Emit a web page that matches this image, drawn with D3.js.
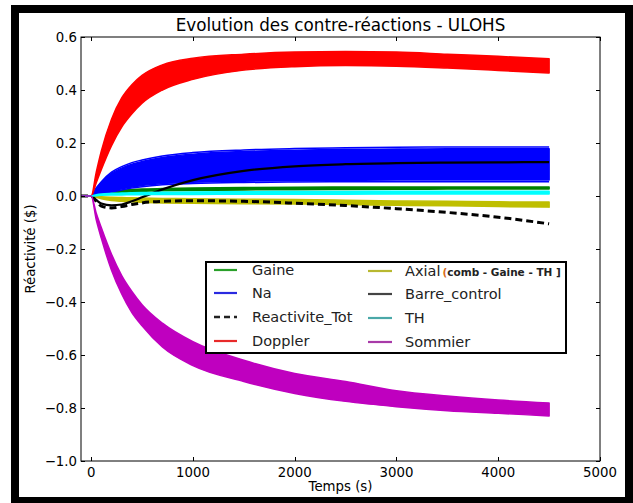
<!DOCTYPE html>
<html>
<head>
<meta charset="utf-8">
<script src="https://cdn.jsdelivr.net/npm/d3@7"></script>
<style>
	body { margin: 0; background: #fff; }
	svg text { font-family: "DejaVu Sans", sans-serif; fill: #000; }
</style>
</head>
<body>
<svg id="chart" width="633" height="503"></svg>
<script>
// time steps (s)
let temps = [-100, 0, 50, 100, 200, 300, 400, 500, 700, 1000, 1500, 2000, 2500, 3000, 3500, 4000, 4500];

// bands: upper / lower envelope of each family of curves ($)
let dopplerHigh = [0, 0, 0.09, 0.17, 0.29, 0.37, 0.42, 0.455, 0.495, 0.52, 0.535, 0.543, 0.545, 0.543, 0.535, 0.527, 0.518];
let dopplerLow = [0, 0, 0.05, 0.10, 0.19, 0.26, 0.31, 0.35, 0.40, 0.44, 0.475, 0.488, 0.492, 0.49, 0.483, 0.474, 0.464];
let sommierHigh = [0, 0, -0.065, -0.12, -0.22, -0.30, -0.36, -0.41, -0.48, -0.55, -0.62, -0.67, -0.70, -0.735, -0.755, -0.77, -0.781];
let sommierLow = [0, 0, -0.09, -0.16, -0.28, -0.37, -0.44, -0.49, -0.57, -0.64, -0.70, -0.745, -0.775, -0.795, -0.81, -0.82, -0.83];
let naHigh = [0, 0, 0.028, 0.05, 0.085, 0.105, 0.12, 0.13, 0.145, 0.158, 0.168, 0.173, 0.176, 0.177, 0.178, 0.178, 0.178];
let naLow = [0, 0, 0.004, 0.008, 0.018, 0.027, 0.034, 0.04, 0.047, 0.052, 0.056, 0.058, 0.059, 0.06, 0.06, 0.06, 0.06];
let naOuterHigh = [0, 0, 0.03, 0.054, 0.09, 0.111, 0.126, 0.136, 0.151, 0.164, 0.174, 0.179, 0.182, 0.184, 0.185, 0.185, 0.185];
let naOuterLow = [0, 0, 0.003, 0.006, 0.015, 0.023, 0.03, 0.035, 0.042, 0.047, 0.051, 0.053, 0.054, 0.054, 0.054, 0.054, 0.054];
let gaineHigh = [0, 0, 0.007, 0.012, 0.018, 0.022, 0.024, 0.026, 0.028, 0.03, 0.032, 0.033, 0.034, 0.034, 0.034, 0.034, 0.034];
let gaineLow = [0, 0, 0.003, 0.006, 0.01, 0.014, 0.016, 0.018, 0.02, 0.021, 0.023, 0.024, 0.025, 0.025, 0.026, 0.026, 0.026];
let thHigh = [0, 0, 0.005, 0.008, 0.01, 0.011, 0.012, 0.013, 0.014, 0.015, 0.016, 0.017, 0.017, 0.018, 0.018, 0.018, 0.018];
let thLow = [0, 0, 0.001, 0.003, 0.004, 0.004, 0.005, 0.005, 0.006, 0.006, 0.007, 0.007, 0.007, 0.008, 0.008, 0.008, 0.008];
let axialHigh = [0, 0, -0.001, -0.003, -0.005, -0.006, -0.007, -0.008, -0.009, -0.01, -0.012, -0.013, -0.016, -0.019, -0.02, -0.022, -0.023];
let axialLow = [0, 0, -0.005, -0.01, -0.017, -0.02, -0.022, -0.024, -0.026, -0.027, -0.029, -0.03, -0.032, -0.035, -0.037, -0.04, -0.042];

// single curves
let barreControl = [0, 0, -0.015, -0.028, -0.035, -0.032, -0.02, -0.005, 0.025, 0.06, 0.095, 0.112, 0.12, 0.124, 0.126, 0.127, 0.128];
let reactiviteTot = [0, 0, -0.02, -0.038, -0.045, -0.04, -0.032, -0.026, -0.02, -0.018, -0.02, -0.027, -0.036, -0.048, -0.062, -0.08, -0.105];

let xTicks = [0, 1000, 2000, 3000, 4000, 5000],
	yTicks = [-1.0, -0.8, -0.6, -0.4, -0.2, 0.0, 0.2, 0.4, 0.6];

let legendCol1 = ['Gaine', 'Na', 'Reactivite_Tot', 'Doppler'],
	legendCol2 = ['Axial', 'Barre_control', 'TH', 'Sommier'];

let svg = d3.select('#chart'),
	plotL = 81, plotR = 600, plotT = 37, plotB = 461;

let x = d3.scaleLinear().domain([-100, 5000]).range([plotL, plotR]),
	y = d3.scaleLinear().domain([-1, 0.6]).range([plotB, plotT]);

// outer frame of the picture
svg.append('rect')
	.attr('x', 15).attr('y', 9)
	.attr('width', 614).attr('height', 492)
	.attr('fill', 'none')
	.attr('stroke', '#000')
	.attr('stroke-width', 8);

// clip
svg.append('clipPath').attr('id', 'clip')
	.append('rect')
	.attr('x', plotL).attr('y', plotT)
	.attr('width', plotR - plotL).attr('height', plotB - plotT);

let plot = svg.append('g').attr('clip-path', 'url(#clip)');

function band(high, low, color) {
	let pts = temps.map((t, i) => ({t: t, hi: high[i], lo: low[i]}));
	let area = d3.area()
		.x(d => x(d.t))
		.y0(d => y(d.lo))
		.y1(d => y(d.hi))
		.curve(d3.curveMonotoneX);
	plot.append('path')
		.datum(pts)
		.attr('d', area)
		.attr('fill', color)
		.attr('stroke', color)
		.attr('stroke-width', 1.5)
		.attr('stroke-linejoin', 'round');
}

function curve(vals, color, width, dash) {
	let line = d3.line()
		.x((d, i) => x(temps[i]))
		.y(d => y(d))
		.curve(d3.curveMonotoneX);
	let p = plot.append('path')
		.datum(vals)
		.attr('d', line)
		.attr('fill', 'none')
		.attr('stroke', color)
		.attr('stroke-width', width);
	if (dash) p.attr('stroke-dasharray', dash);
}

// draw order
band(gaineHigh, gaineLow, '#008000');
curve(naOuterHigh, '#0000ff', 1.5);
curve(naOuterLow, '#0000ff', 1.5);
band(naHigh, naLow, '#0000ff');
band(dopplerHigh, dopplerLow, '#ff0000');
band(axialHigh, axialLow, '#bfbf00');
curve(reactiviteTot, '#000', 3, '7,4');
curve(barreControl, '#000', 2.2);
band(thHigh, thLow, '#00ffff');
band(sommierHigh, sommierLow, '#bf00bf');

// axes frame
svg.append('rect')
	.attr('x', plotL).attr('y', plotT)
	.attr('width', plotR - plotL).attr('height', plotB - plotT)
	.attr('fill', 'none')
	.attr('stroke', '#000')
	.attr('stroke-width', 1);

// ticks inside, on all four sides
let ticks = svg.append('g').attr('stroke', '#000').attr('stroke-width', 1);
xTicks.forEach(t => {
	let px = Math.round(x(t)) + 0.5;
	ticks.append('line').attr('x1', px).attr('x2', px).attr('y1', plotB).attr('y2', plotB - 4);
	ticks.append('line').attr('x1', px).attr('x2', px).attr('y1', plotT).attr('y2', plotT + 4);
});
yTicks.forEach(t => {
	let py = Math.round(y(t)) + 0.5;
	ticks.append('line').attr('x1', plotL).attr('x2', plotL + 4).attr('y1', py).attr('y2', py);
	ticks.append('line').attr('x1', plotR).attr('x2', plotR - 4).attr('y1', py).attr('y2', py);
});

let fmt = d => (d < 0 ? '\u2212' : '') + Math.abs(d).toFixed(1);

svg.selectAll('.xlab')
	.data(xTicks).enter()
	.append('text')
	.attr('class', 'xlab')
	.attr('x', d => x(d))
	.attr('y', 477)
	.attr('text-anchor', 'middle')
	.style('font-size', '13.3px')
	.text(d => d);

svg.selectAll('.ylab')
	.data(yTicks).enter()
	.append('text')
	.attr('class', 'ylab')
	.attr('x', plotL - 4)
	.attr('y', d => y(d) + 4.5)
	.attr('text-anchor', 'end')
	.style('font-size', '13.3px')
	.text(fmt);

svg.append('text')
	.attr('x', (plotL + plotR) / 2)
	.attr('y', 31)
	.attr('text-anchor', 'middle')
	.style('font-size', '16.8px')
	.text('Evolution des contre-réactions - ULOHS');

svg.append('text')
	.attr('x', (plotL + plotR) / 2)
	.attr('y', 491)
	.attr('text-anchor', 'middle')
	.style('font-size', '13.3px')
	.text('Temps (s)');

svg.append('text')
	.attr('transform', `translate(35, ${(plotT + plotB) / 2}) rotate(-90)`)
	.attr('text-anchor', 'middle')
	.style('font-size', '13.3px')
	.text('Réactivité ($)');

// legend
let legend = svg.append('g');
legend.append('rect')
	.attr('x', 206).attr('y', 262)
	.attr('width', 360).attr('height', 91)
	.attr('fill', '#fff')
	.attr('stroke', '#000')
	.attr('stroke-width', 2);

let rowY = [270, 293, 317, 341],
	col1Colors = ['#2aa02a', '#2a2ae0', '#222', '#e82a2a'],
	col2Colors = ['#b8b830', '#444', '#4aa8a8', '#a83aa8'];

legendCol1.forEach((name, i) => {
	let l = legend.append('line')
		.attr('x1', 214).attr('x2', 237)
		.attr('y1', rowY[i]).attr('y2', rowY[i])
		.attr('stroke', col1Colors[i])
		.attr('stroke-width', 2.2);
	if (name == 'Reactivite_Tot') l.attr('stroke-dasharray', '6,4').attr('stroke-width', 2.6);
	legend.append('text')
		.attr('x', 252).attr('y', rowY[i] + 5)
		.style('font-size', '14.5px')
		.style('fill', '#222')
		.text(name);
});

legendCol2.forEach((name, i) => {
	legend.append('line')
		.attr('x1', 368).attr('x2', 392)
		.attr('y1', rowY[i] + 1).attr('y2', rowY[i] + 1)
		.attr('stroke', col2Colors[i])
		.attr('stroke-width', 2.2);
	let t = legend.append('text')
		.attr('x', 405).attr('y', rowY[i] + 6)
		.style('font-size', '14.5px')
		.style('fill', '#222')
		.text(name);
	if (name == 'Axial') {
		t.append('tspan')
			.attr('dx', 2)
			.style('font-size', '10.5px')
			.style('font-weight', 'bold')
			.style('fill', '#d86a1a')
			.text('(');
		t.append('tspan')
			.style('font-size', '10.5px')
			.style('font-weight', 'bold')
			.style('fill', '#222')
			.text('comb - Gaine - TH ]');
	}
});
</script>
</body>
</html>
